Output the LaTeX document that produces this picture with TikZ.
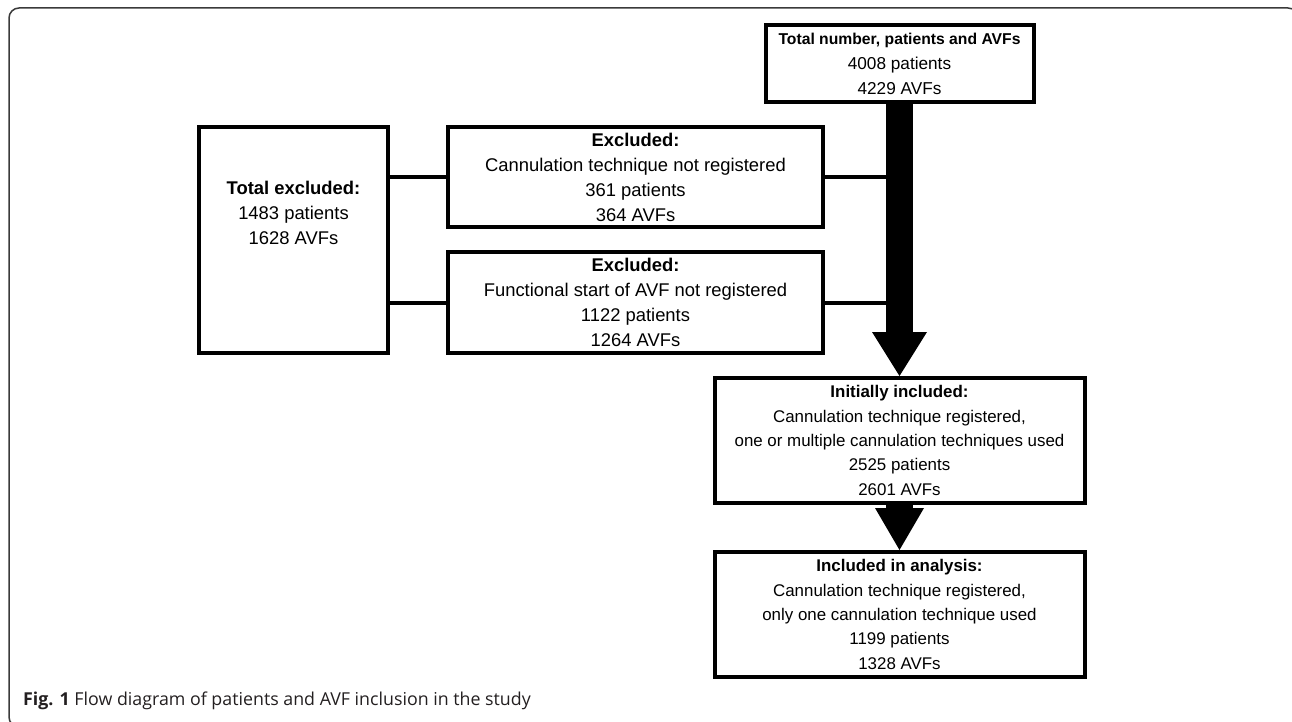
\documentclass[tikz,border=0pt]{standalone}
\usepackage{fontspec}
\setmainfont{Liberation Sans}
\newfontfamily\capfont{Open Sans}
\usetikzlibrary{arrows.meta}
\definecolor{framegray}{HTML}{3A3A3A}
\definecolor{captext}{HTML}{231F20}
\tikzset{
  box/.style={draw, line width=4pt, rectangle, inner sep=0pt, align=center,
    font=\fontsize{18.4}{25}\selectfont},
  smallbox/.style={box, font=\fontsize{16.9}{24.3}\selectfont},
  txt/.style={inner sep=0pt, align=center, font=\fontsize{18.4}{25}\selectfont},
  conn/.style={line width=4pt},
  bigarrow/.style={line width=27pt, -{Triangle[width=55pt,length=44pt,line width=0pt]}},
  midarrow/.style={line width=27pt, -{Triangle[width=49pt,length=42pt,line width=0pt]}},
}
\begin{document}
\begin{tikzpicture}[x=1pt,y=-1pt]
\useasboundingbox (0,0) rectangle (1292,722);
% frame
\begin{scope}
  \clip (0,0) rectangle (1292,722);
  \draw[framegray, line width=1.5pt, rounded corners=10pt] (9,8) rectangle (1298,727);
\end{scope}
% boxes
\node[box, minimum width=268, minimum height=77, font=\fontsize{17.2}{25}\selectfont] (top) at (899.5,63.5)
  {{\fontsize{15.7}{25}\selectfont\bfseries Total number, patients and AVFs}\\4008 patients\\4229 AVFs};
\node[box, minimum width=189, minimum height=226] (totex) at (293.5,240) {};
\node[txt] (totexlabel) at (293.5,213) {\textbf{Total excluded:}\\1483 patients\\1628 AVFs};
\node[box, minimum width=375, minimum height=100] (exa) at (635.5,177)
  {\textbf{Excluded:}\\Cannulation technique not registered\\361 patients\\364 AVFs};
\node[box, minimum width=375, minimum height=101] (exb) at (635.5,302.5)
  {\textbf{Excluded:}\\Functional start of AVF not registered\\1122 patients\\1264 AVFs};
\node[smallbox, minimum width=370, minimum height=125] (init) at (899.5,440.5)
  {\textbf{Initially included:}\\Cannulation technique registered,\\one or multiple cannulation techniques used\\2525 patients\\2601 AVFs};
\node[smallbox, minimum width=370, minimum height=125] (incl) at (899.5,614.5)
  {\textbf{Included in analysis:}\\Cannulation technique registered,\\only one cannulation technique used\\1199 patients\\1328 AVFs};
% connectors
\draw[conn] (exa.west) -- (exa.west -| totex.east);
\draw[conn] (exb.west) -- (exb.west -| totex.east);
\draw[conn] (exa.east) -- (exa.east -| top.south);
\draw[conn] (exb.east) -- (exb.east -| top.south);
% arrows
\draw[bigarrow] (top.south) -- (init.north);
\draw[midarrow] (init.south) -- (incl.north);
% caption
\node[anchor=base west, inner sep=0pt, text=captext, font=\capfont\fontsize{17.8}{22}\selectfont] (cap) at (23,705)
  {\textbf{Fig. 1} Flow diagram of patients and AVF inclusion in the study};
\end{tikzpicture}
\end{document}
